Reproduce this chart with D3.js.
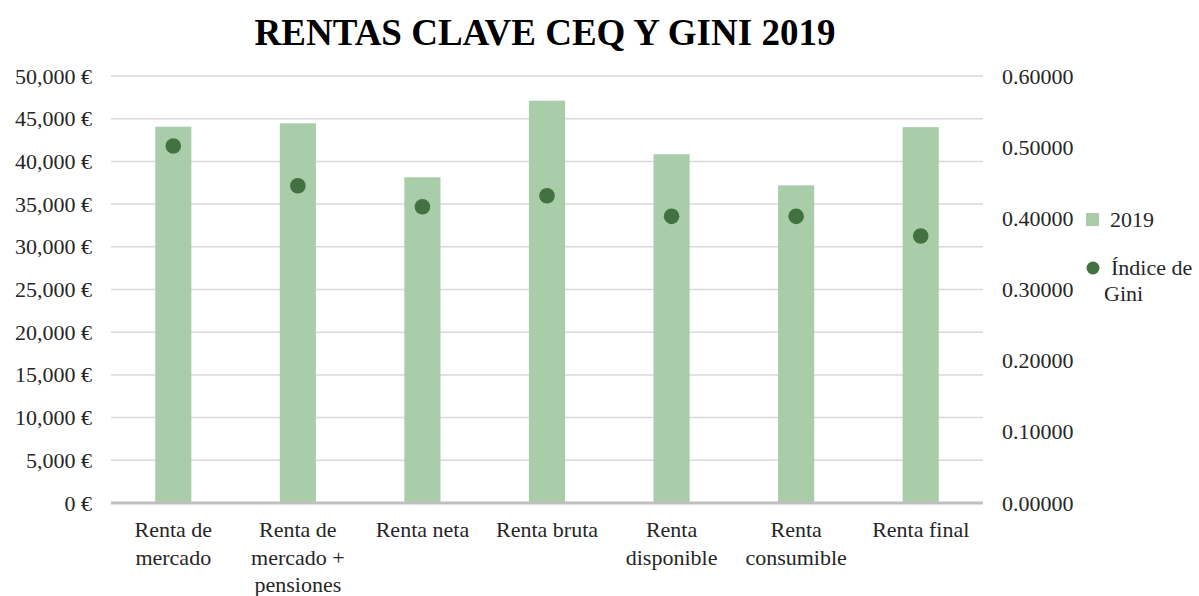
<!DOCTYPE html>
<html>
<head>
<meta charset="utf-8">
<script src="https://cdn.jsdelivr.net/npm/d3@7"></script>
<style>
body { margin: 0; background: #ffffff; }
svg { font-family: "Liberation Serif", "DejaVu Serif", serif; }
</style>
</head>
<body>
<script>
// datos
var categorias = ["Renta de mercado", "Renta de mercado + pensiones", "Renta neta", "Renta bruta",
                  "Renta disponible", "Renta consumible", "Renta final"]
var rentas2019 = [44060, 44460, 38140, 47110, 40830, 37200, 44010]
var gini = [0.5016, 0.4458, 0.4163, 0.4318, 0.4028, 0.4028, 0.3752]
var ticksRenta = [0, 5000, 10000, 15000, 20000, 25000, 30000, 35000, 40000, 45000, 50000]
var ticksGini = [0, 0.1, 0.2, 0.3, 0.4, 0.5, 0.6]
var leyenda = ["2019", "Índice de Gini"]

var screen = {width: 1199, height: 596}
var margins = {left: 111, right: 216, top: 76, bottom: 93}
var fs = 22

var svg = d3.select("body")
    .append("svg")
    .attr("width", screen.width)
    .attr("height", screen.height)

var xscale = d3.scaleBand()
    .domain(categorias)
    .range([margins.left, screen.width - margins.right])
    .paddingInner(0.71)
    .paddingOuter(0.355)

var yscale = d3.scaleLinear()
    .domain([0, 50000])
    .range([screen.height - margins.bottom, margins.top])

var y2scale = d3.scaleLinear()
    .domain([0, 0.6])
    .range([screen.height - margins.bottom, margins.top])

// titulo
svg.append("text")
    .attr("x", 545)
    .attr("y", 45)
    .attr("text-anchor", "middle")
    .attr("font-size", 37)
    .attr("font-weight", "bold")
    .attr("fill", "#000")
    .text("RENTAS CLAVE CEQ Y GINI 2019")

// lineas de cuadricula
svg.append("g")
    .selectAll("line")
    .data(ticksRenta.slice(1))
    .enter()
    .append("line")
    .attr("x1", margins.left)
    .attr("x2", screen.width - margins.right)
    .attr("y1", function (d) { return yscale(d) })
    .attr("y2", function (d) { return yscale(d) })
    .attr("stroke", "#d9d9d9")
    .attr("stroke-width", 1.5)

// eje izquierdo
var leftAxis = d3.axisLeft(yscale)
    .tickValues(ticksRenta)
    .tickSize(0)
    .tickPadding(19)
    .tickFormat(function (d) { return d3.format(",")(d) + " €" })

var gl = svg.append("g")
    .attr("transform", "translate(" + margins.left + ",0)")
    .call(leftAxis)
gl.select(".domain").remove()
gl.selectAll("text")
    .attr("font-family", "Liberation Serif")
    .attr("font-size", fs)
    .attr("fill", "#262626")

// eje derecho
var rightAxis = d3.axisRight(y2scale)
    .tickValues(ticksGini)
    .tickSize(0)
    .tickPadding(19)
    .tickFormat(d3.format(".5f"))

var gr = svg.append("g")
    .attr("transform", "translate(" + (screen.width - margins.right) + ",0)")
    .call(rightAxis)
gr.select(".domain").remove()
gr.selectAll("text")
    .attr("font-family", "Liberation Serif")
    .attr("font-size", fs)
    .attr("fill", "#262626")

// barras
svg.append("g")
    .selectAll("rect")
    .data(rentas2019)
    .enter()
    .append("rect")
    .attr("x", function (d, i) { return xscale(categorias[i]) })
    .attr("width", xscale.bandwidth())
    .attr("y", function (d) { return yscale(d) })
    .attr("height", function (d) { return yscale(0) - yscale(d) })
    .attr("fill", "#a9cda8")

// linea base
svg.append("line")
    .attr("x1", margins.left)
    .attr("x2", screen.width - margins.right)
    .attr("y1", yscale(0))
    .attr("y2", yscale(0))
    .attr("stroke", "#bfbfbf")
    .attr("stroke-width", 3)

// puntos gini
svg.append("g")
    .selectAll("circle")
    .data(gini)
    .enter()
    .append("circle")
    .attr("cx", function (d, i) { return xscale(categorias[i]) + xscale.bandwidth() / 2 })
    .attr("cy", function (d) { return y2scale(d) })
    .attr("r", 7.8)
    .attr("fill", "#437142")

// etiquetas de categorias
var wrap = function (text, maxw)
{
    text.each(function (d)
    {
        var el = d3.select(this)
        var words = d.split(" ")
        var lines = []
        var line = []
        el.text("")
        var probe = el.append("tspan")
        words.forEach(function (w)
        {
            line.push(w)
            probe.text(line.join(" "))
            if (probe.node().getComputedTextLength() > maxw && line.length > 1)
            {
                line.pop()
                lines.push(line.join(" "))
                line = [w]
            }
        })
        lines.push(line.join(" "))
        probe.remove()
        lines.forEach(function (l, k)
        {
            el.append("tspan")
                .attr("x", el.attr("x"))
                .attr("dy", k == 0 ? 0 : 27.5)
                .text(l)
        })
    })
}

svg.append("g")
    .selectAll("text")
    .data(categorias)
    .enter()
    .append("text")
    .attr("x", function (d) { return xscale(d) + xscale.bandwidth() / 2 })
    .attr("y", 537)
    .attr("text-anchor", "middle")
    .attr("font-size", fs)
    .attr("fill", "#262626")
    .text(function (d) { return d })
    .call(wrap, 118)

// leyenda
var lg = svg.append("g")
lg.append("rect")
    .attr("x", 1086)
    .attr("y", 213)
    .attr("width", 13)
    .attr("height", 13)
    .attr("fill", "#a9cda8")
lg.append("text")
    .attr("x", 1110)
    .attr("y", 227)
    .attr("font-size", fs)
    .attr("fill", "#262626")
    .text(leyenda[0])
lg.append("circle")
    .attr("cx", 1093)
    .attr("cy", 268)
    .attr("r", 6.5)
    .attr("fill", "#437142")
var t2 = lg.append("text")
    .attr("font-size", fs)
    .attr("fill", "#262626")
t2.append("tspan")
    .attr("x", 1111)
    .attr("y", 275)
    .text(leyenda[1].split(" ").slice(0, 2).join(" "))
t2.append("tspan")
    .attr("x", 1104)
    .attr("y", 301)
    .text(leyenda[1].split(" ").slice(2).join(" "))
</script>
</body>
</html>
